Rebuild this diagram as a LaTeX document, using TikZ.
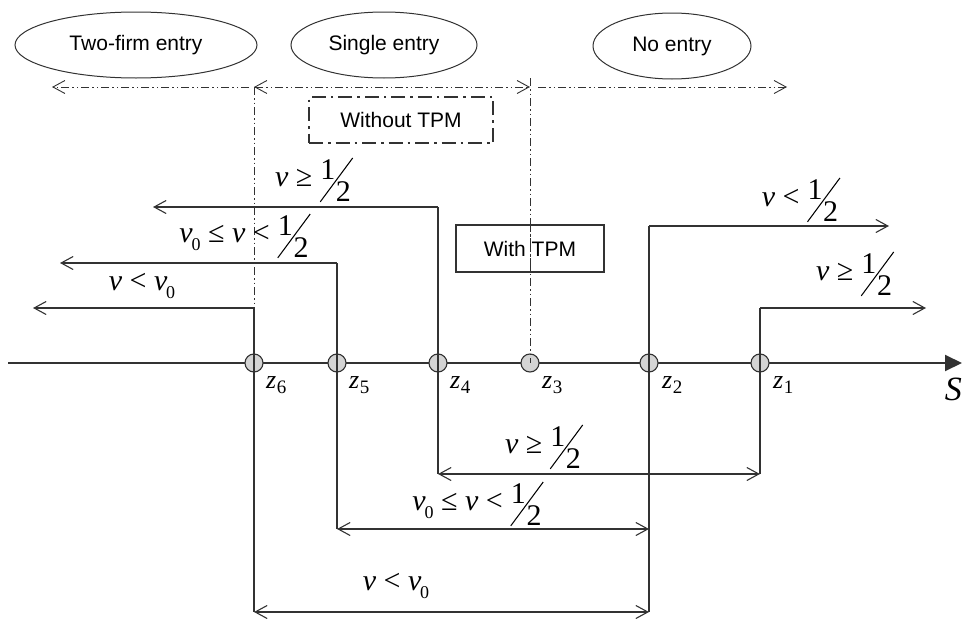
\documentclass[tikz,border=0pt]{standalone}
\usepackage[no-math]{fontspec}
\usepackage{graphicx}
\usetikzlibrary{arrows.meta,shapes.geometric}
\newfontfamily\ari{Liberation Sans}
\newfontfamily\tms{Liberation Serif}
\definecolor{lc}{RGB}{50,50,50}
\definecolor{cf}{RGB}{212,212,212}
\newcommand{\hlf}{\rlap{\raisebox{-0.54em}{\rotatebox{53.5}{\rule{1.82em}{0.035em}}}}\kern0.02em\raisebox{0.22em}{1}\kern0.02em\raisebox{-0.52em}{2}}
\newcommand{\iv}{\textit{v}}
\newcommand{\vz}{\textit{v}\kern-0.04em\raisebox{-0.28em}{\fontsize{18}{18}\selectfont 0}}
\newcommand{\zz}[1]{\textit{z}\kern0.02em\raisebox{-0.2em}{\fontsize{19}{19}\selectfont #1}}
\begin{document}
\begin{tikzpicture}[x=1pt,y=-1pt,
  ln/.style={draw=lc, line width=1.1pt},
  dd/.style={draw=lc, line width=0.9pt, dash pattern=on 8pt off 3pt on 1.5pt off 3pt on 1.5pt off 3pt},
  tipE/.style={-{Straight Barb[length=12pt,width=13pt]}},
  tipB/.style={{Straight Barb[length=12pt,width=13pt]}-{Straight Barb[length=12pt,width=13pt]}},
  ell/.style={ellipse, draw=lc, line width=1pt, inner sep=0pt, font=\ari\fontsize{21}{25}\selectfont},
  wobox/.style={draw=lc, line width=1.8pt, dash pattern=on 14pt off 5pt on 2.5pt off 5pt, inner sep=0pt, font=\ari\fontsize{21}{25}\selectfont},
  wbox/.style={draw=lc, line width=1.8pt, inner sep=0pt, font=\ari\fontsize{21}{25}\selectfont},
  pt/.style={circle, draw=lc, fill=cf, line width=1.1pt, minimum size=18pt, inner sep=0pt},
  mlab/.style={anchor=base, inner sep=0pt, font=\tms\fontsize{30}{34}\selectfont},
  zlab/.style={anchor=base west, inner sep=0pt, font=\tms\fontsize{26}{30}\selectfont},
]
\useasboundingbox (0,0) rectangle (964,621);
% top ellipses and boxes
\node[ell, minimum width=242pt, minimum height=66pt] (two) at (136,45) {Two-firm entry};
\node[ell, minimum width=186pt, minimum height=66pt] (single) at (384,45) {Single entry};
\node[ell, minimum width=158pt, minimum height=66pt] (noent) at (672,46) {No entry};
\node[wobox, minimum width=184pt, minimum height=46pt] (wo) at (401,120) {Without TPM};
% axis
\coordinate (axL) at (8,363);
\coordinate (axR) at (962,363);
\draw[draw=lc, line width=2pt, -{Triangle[length=17pt,width=16pt]}] (axL) -- (axR);
\node[anchor=base east, inner sep=0pt, font=\tms\fontsize{34}{38}\selectfont\itshape] (S) at (962,400) {S};
% points
\node[pt] (z6) at (254,363) {};
\node[pt] (z5) at (337,363) {};
\node[pt] (z4) at (438,363) {};
\node[pt] (z3) at (530,363) {};
\node[pt] (z2) at (649,363) {};
\node[pt] (z1) at (760,363) {};
\node[zlab] (l6) at (266,388) {\zz{6}};
\node[zlab] (l5) at (349,388) {\zz{5}};
\node[zlab] (l4) at (450,388) {\zz{4}};
\node[zlab] (l3) at (542,388) {\zz{3}};
\node[zlab] (l2) at (662,388) {\zz{2}};
\node[zlab] (l1) at (773,388) {\zz{1}};
% coordinates
\coordinate (tL) at (52,87);
\coordinate (t6l) at (249,87);
\coordinate (t6) at (254,87);
\coordinate (t3) at (530,87);
\coordinate (t3r) at (538,87);
\coordinate (tR) at (787,87);
\coordinate (t3top) at (530,78);
\coordinate (a4) at (438,207);  \coordinate (aL4) at (153,207);
\coordinate (a5) at (337,263);  \coordinate (aL5) at (60,263);
\coordinate (a6) at (254,308);  \coordinate (aL6) at (33,308);
\coordinate (a2) at (649,226);  \coordinate (aR2) at (889,226);
\coordinate (a1) at (760,308);  \coordinate (aR1) at (926,308);
\coordinate (b4) at (438,474);  \coordinate (b1) at (760,474);
\coordinate (b5) at (337,529);  \coordinate (b2m) at (649,529);
\coordinate (b6) at (254,612);  \coordinate (b2) at (649,612);
% dash-dot regions
\draw[dd, tipE] (t6l) -- (tL);
\draw[dd, tipB] (t6) -- (t3);
\draw[dd, tipE] (t3r) -- (tR);
\draw[dd] (t6) -- (z6.center);
\draw[dd] (t3top) -- (z3.center);
% with TPM box (over the dashed line)
\node[wbox, minimum width=148pt, minimum height=47pt] (w) at (530,248.5) {With TPM};
\draw[dd] (w.north -| t3) -- (w.south -| t3);
% solid connectors
\draw[ln, tipE] (a4) -- (aL4);
\draw[ln, tipE] (a5) -- (aL5);
\draw[ln, tipE] (a6) -- (aL6);
\draw[ln, tipE] (a2) -- (aR2);
\draw[ln, tipE] (a1) -- (aR1);
\draw[ln] (a4) -- (b4);
\draw[ln] (a5) -- (b5);
\draw[ln] (a6) -- (b6);
\draw[ln] (a2) -- (b2);
\draw[ln] (a1) -- (b1);
\draw[ln, tipB] (b4) -- (b1);
\draw[ln, tipB] (b5) -- (b2m);
\draw[ln, tipB] (b6) -- (b2);
% labels
\node[mlab] (m1) at (313,186) {\iv\ ≥ \hlf};
\node[mlab] (m2) at (244,242) {\vz\ ≤ \iv\ < \hlf};
\node[mlab] (m3) at (142,290) {\iv\ < \vz};
\node[mlab] (m4) at (800,206) {\iv\ < \hlf};
\node[mlab] (m5) at (854,280) {\iv\ ≥ \hlf};
\node[mlab] (m6) at (543,453) {\iv\ ≥ \hlf};
\node[mlab] (m7) at (477,510) {\vz\ ≤ \iv\ < \hlf};
\node[mlab] (m8) at (396,590) {\iv\ < \vz};
\end{tikzpicture}
\end{document}
